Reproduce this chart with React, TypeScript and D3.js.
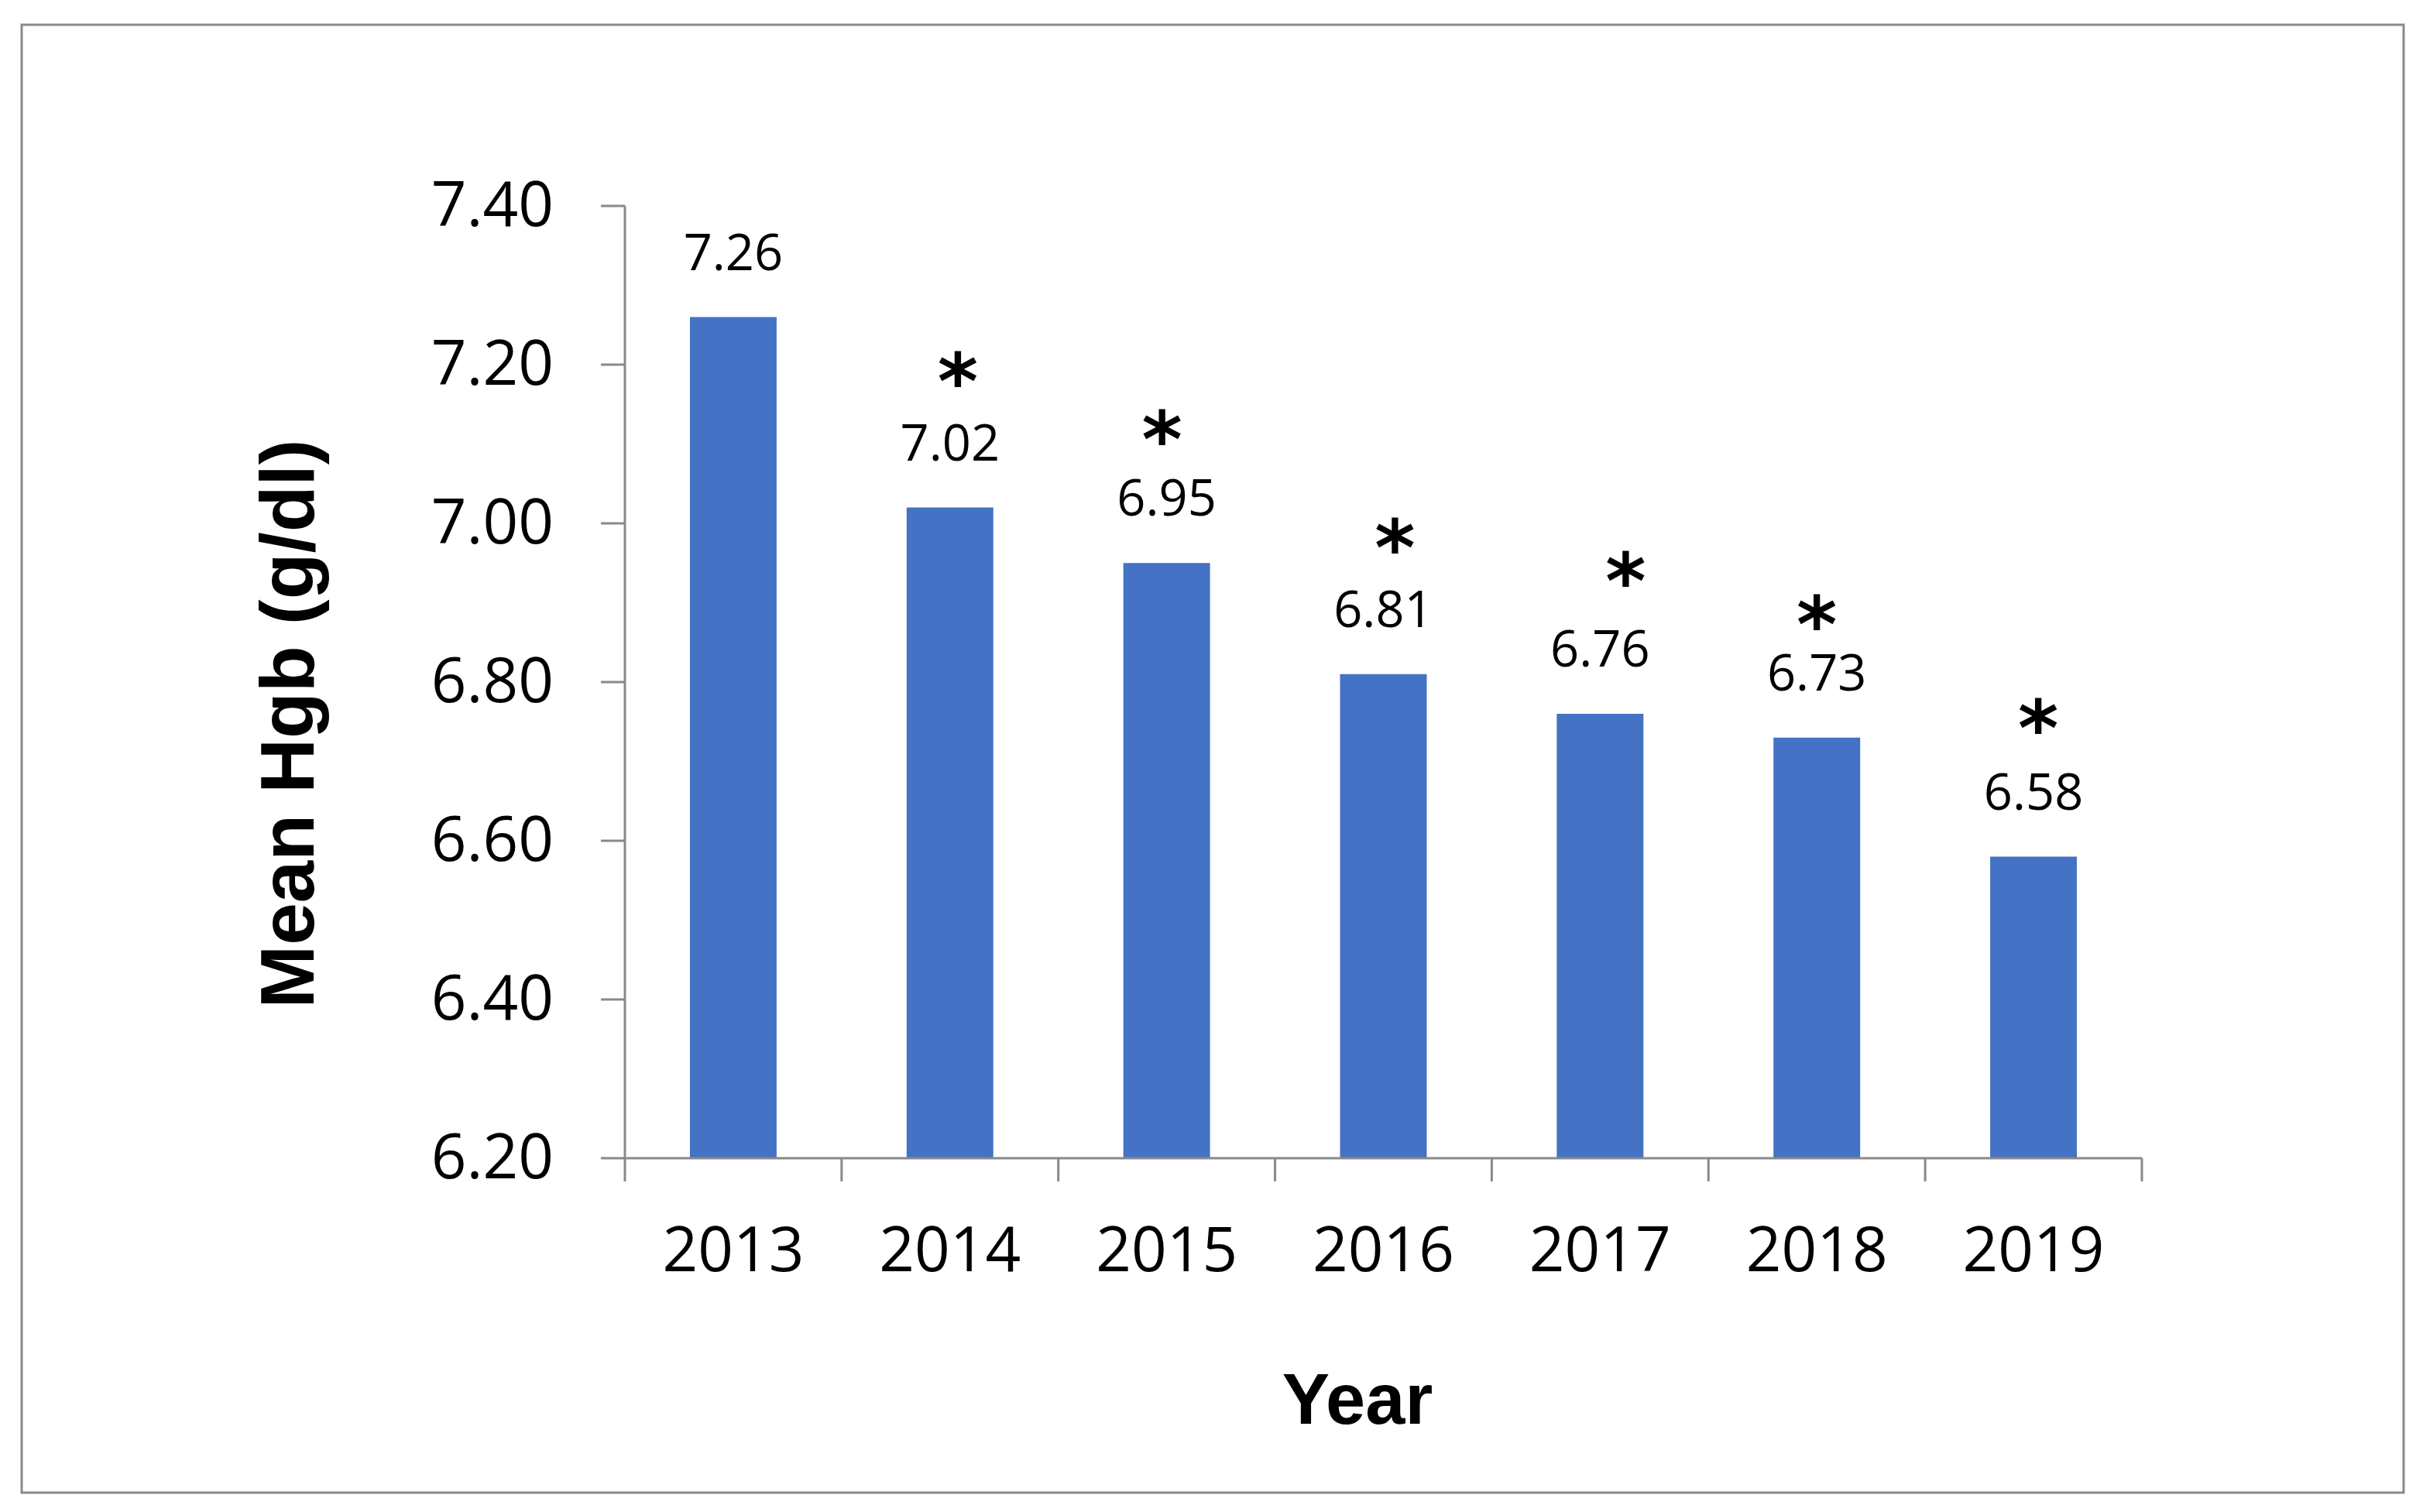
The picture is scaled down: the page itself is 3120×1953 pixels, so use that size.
import React from 'react';
import * as d3 from 'd3';

// Mean haemoglobin per year
const years = ['2013', '2014', '2015', '2016', '2017', '2018', '2019'];
const meanHgb = [7.26, 7.02, 6.95, 6.81, 6.76, 6.73, 6.58];
const significant = [false, true, true, true, true, true, true];
const yTicks = [6.2, 6.4, 6.6, 6.8, 7.0, 7.2, 7.4];

// hand-placed asterisks in the original: [dx from bar centre, gap above label baseline]
const starNudge: [number, number][] = [
	[0, 0],
	[10, 97],
	[-6, 93],
	[15, 97],
	[33, 105],
	[0, 80],
	[6, 100],
];

const W = 3120;
const H = 1953;
const BLUE = '#4472C4';
const AXIS = '#898989';
const TICK_FONT = '"Open Sans", "Noto Sans", sans-serif';
const TITLE_FONT = '"Liberation Sans", Arial, sans-serif';
const STAR_FONT = '"DejaVu Sans", sans-serif';

const App: React.FC = () => {
	const x = d3
		.scaleBand<string>()
		.domain(years)
		.range([807, 2766])
		.paddingInner(0.6)
		.paddingOuter(0.3);

	const y = d3.scaleLinear().domain([6.2, 7.4]).range([1496, 266]);

	const [x0, x1] = x.range();
	const step = x.step();
	const boundaries = d3.range(years.length + 1).map((i) => x0 + i * step);

	return (
		<svg
			width={W}
			height={H}
			style={{ position: 'absolute', left: 0, top: 0, display: 'block', background: '#fff' }}
		>
			<rect x={28} y={32} width={3104 - 28} height={1928 - 32} fill="#fff" stroke={AXIS} strokeWidth={3} />

			{/* y axis */}
			<line x1={x0} x2={x0} y1={y(7.4)} y2={y(6.2)} stroke={AXIS} strokeWidth={3} />
			{yTicks.map((t) => (
				<g key={t}>
					<line x1={x0 - 31} x2={x0} y1={y(t)} y2={y(t)} stroke={AXIS} strokeWidth={3} />
					<text
						x={715}
						y={y(t) + 26}
						textAnchor="end"
						fontFamily={TICK_FONT}
						fontSize={80}
						fill="#000"
					>
						{t.toFixed(2)}
					</text>
				</g>
			))}

			{/* bars */}
			{years.map((yr, i) => (
				<rect
					key={yr}
					x={x(yr)}
					y={y(meanHgb[i])}
					width={x.bandwidth()}
					height={y(6.2) - y(meanHgb[i])}
					fill={BLUE}
				/>
			))}

			{/* x axis */}
			<line x1={x0} x2={x1} y1={y(6.2)} y2={y(6.2)} stroke={AXIS} strokeWidth={3} />
			{boundaries.map((bx, i) => (
				<line key={i} x1={bx} x2={bx} y1={y(6.2)} y2={y(6.2) + 30} stroke={AXIS} strokeWidth={3} />
			))}
			{years.map((yr) => (
				<text
					key={yr}
					x={(x(yr) ?? 0) + x.bandwidth() / 2}
					y={1642}
					textAnchor="middle"
					fontFamily={TICK_FONT}
					fontSize={80}
					fill="#000"
				>
					{yr}
				</text>
			))}

			{/* value labels and significance marks */}
			{years.map((yr, i) => {
				const cx = (x(yr) ?? 0) + x.bandwidth() / 2;
				const base = y(meanHgb[i]) - 61;
				return (
					<g key={yr}>
						<text x={cx} y={base} textAnchor="middle" fontFamily={TICK_FONT} fontSize={65} fill="#000">
							{meanHgb[i].toFixed(2)}
						</text>
						{significant[i] && (
							<text
								x={cx + starNudge[i][0]}
								y={base - starNudge[i][1] + 30}
								textAnchor="middle"
								fontFamily={STAR_FONT}
								fontWeight="bold"
								fontSize={100}
								fill="#000"
							>
								*
							</text>
						)}
					</g>
				);
			})}

			{/* axis titles */}
			<text
				transform="translate(405, 935) rotate(-90)"
				textAnchor="middle"
				fontFamily={TITLE_FONT}
				fontWeight="bold"
				fontSize={98}
				fill="#000"
			>
				Mean Hgb (g/dl)
			</text>
			<text
				x={1753}
				y={1839}
				textAnchor="middle"
				fontFamily={TITLE_FONT}
				fontWeight="bold"
				fontSize={92}
				fill="#000"
			>
				Year
			</text>
		</svg>
	);
};

export default App;
